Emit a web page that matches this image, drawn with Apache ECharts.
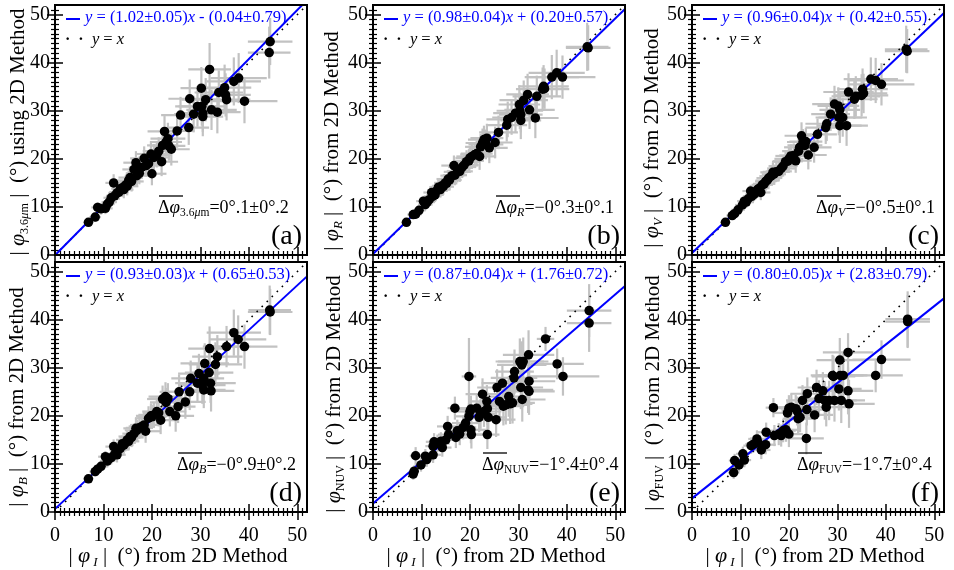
<!DOCTYPE html>
<html><head><meta charset="utf-8">
<script src="https://cdn.jsdelivr.net/npm/echarts@6/dist/echarts.min.js"></script>
<style>html,body{margin:0;padding:0;background:#fff}#c{width:954px;height:570px}</style>
</head><body><div id="c"></div>
<script>
// ---------------- DATA ----------------
// |phi_I| (x) shared by panels a, b, c and its error
const xI = [6.9,8.3,8.8,9.5,10.4,10.8,11.2,11.6,12.1,12.3,12.8,13.2,13.5,13.9,14.2,14.5,14.9,15.2,15.5,15.8,16.3,16.7,16.9,17.4,17.9,18.4,18.8,19.3,19.8,20.0,20.4,21.0,21.4,22.0,22.2,22.6,22.9,23.3,23.5,24.0,25.2,25.9,27.6,27.8,28.6,29.4,30.2,30.3,30.5,30.5,31.1,31.9,32.3,33.5,33.8,35.0,35.2,35.4,36.9,37.9,39.1,44.4,44.2];
const exI = [1.0,1.2,1.3,1.4,1.5,1.5,1.6,1.6,1.7,1.8,1.8,2.0,1.9,2.1,2.0,2.2,2.3,2.2,2.4,2.5,2.4,2.6,2.5,2.8,2.7,2.9,3.0,2.8,3.1,3.0,3.2,3.0,3.3,3.4,3.2,3.5,3.3,3.6,3.4,3.8,3.6,4.0,4.2,4.4,4.0,4.6,4.3,4.8,4.5,4.2,5.0,4.4,5.2,4.8,5.0,5.5,5.2,4.9,5.6,5.8,6.8,4.6,4.4];
// (a) 3.6um
const ya = [6.8,7.9,9.9,9.6,9.7,10.6,11.0,11.9,15.0,12.3,12.9,13.1,13.8,14.0,13.6,14.5,14.3,15.5,16.1,15.3,17.8,19.2,16.5,17.0,18.2,20.1,18.6,19.0,21.0,16.9,20.3,20.8,21.6,19.4,22.8,25.7,23.5,24.2,22.7,22.0,25.8,29.1,26.5,32.5,29.3,30.9,34.7,30.9,29.5,28.8,32.3,38.6,30.2,29.7,33.8,34.8,33.3,32.3,36.1,36.8,32.0,44.4,42.1];
const eya = [0.9,1.0,1.1,1.2,1.2,1.3,1.3,1.4,1.8,1.5,1.5,1.6,1.7,1.6,1.8,1.8,1.9,2.0,1.9,2.1,2.2,2.4,2.1,2.3,2.4,2.5,2.3,2.6,2.7,2.4,2.8,2.6,2.9,3.0,2.8,3.2,3.0,3.3,3.1,3.4,3.5,3.8,3.6,4.0,3.8,4.2,4.4,4.0,3.9,4.1,4.5,5.5,4.2,4.4,4.6,4.8,4.5,4.3,5.0,5.2,4.6,4.9,5.4];
// (b) R
const yb = [6.8,8.4,8.5,9.3,11.2,10.5,11.0,11.5,13.0,12.2,12.5,13.4,14.1,13.6,14.4,14.2,15.0,14.9,15.8,15.6,16.5,18.6,16.6,17.3,17.4,18.3,18.7,19.4,19.6,20.2,20.5,20.9,21.1,20.5,22.5,23.3,24.0,23.0,24.3,22.3,23.4,25.5,27.0,28.2,28.6,29.5,31.3,30.0,29.2,28.0,32.2,33.4,30.2,28.5,33.0,34.5,35.1,34.6,37.0,37.9,37.0,43.1,43.3];
const eyb = [0.8,0.9,1.0,1.1,1.1,1.2,1.2,1.3,1.4,1.4,1.5,1.5,1.6,1.6,1.7,1.7,1.8,1.8,1.9,2.0,2.0,2.1,2.1,2.2,2.2,2.3,2.3,2.4,2.5,2.4,2.6,2.6,2.7,2.8,2.7,3.0,2.9,3.1,3.0,3.2,3.3,3.5,3.4,3.7,3.6,3.9,4.0,3.8,3.7,3.9,4.1,4.3,4.0,4.2,4.3,4.5,4.4,4.2,4.6,4.8,4.5,4.7,5.0];
// (c) V
const yc = [6.8,8.2,8.6,9.4,10.4,11.2,11.0,11.7,13.3,12.2,12.6,13.1,13.6,13.9,13.0,14.6,14.8,15.3,15.5,16.0,16.4,17.2,16.8,17.3,17.4,18.0,18.5,19.4,19.5,20.0,20.6,20.7,19.6,21.6,22.4,24.8,23.5,22.8,23.6,20.8,22.4,25.1,26.5,27.3,29.3,31.4,31.0,28.6,26.9,30.2,28.6,26.9,33.9,32.4,33.0,33.2,34.5,33.6,36.6,36.3,35.5,42.4,42.8];
const eyc = [0.8,0.9,1.0,1.0,1.1,1.2,1.2,1.3,1.3,1.4,1.4,1.5,1.5,1.6,1.6,1.7,1.7,1.8,1.8,1.9,1.9,2.0,2.0,2.1,2.1,2.2,2.2,2.3,2.3,2.4,2.4,2.5,2.5,2.6,2.6,2.8,2.7,2.9,2.8,3.0,3.2,3.3,3.4,3.6,3.5,3.8,3.9,3.7,3.6,3.8,4.0,4.2,3.9,4.1,4.2,4.4,4.3,4.1,4.5,4.7,4.4,4.6,4.9];
// (d) B
const xd = [6.9,8.3,8.8,9.5,10.4,10.8,11.2,11.6,12.1,12.3,12.8,13.2,13.5,13.9,14.2,14.5,14.9,15.2,15.5,15.8,16.3,16.7,16.9,17.4,17.9,18.4,18.7,19.3,19.8,20.0,20.4,21.0,21.4,21.8,22.2,22.8,22.9,23.3,23.7,24.9,25.4,25.6,26.9,27.8,28.0,29.4,29.7,30.4,30.7,30.7,30.9,31.9,32.1,32.2,31.8,33.1,33.5,35.4,36.9,37.8,39.1,44.4,44.3];
const yd = [6.9,8.4,8.9,9.5,11.5,10.6,11.1,11.3,13.6,12.0,11.9,13.0,13.3,14.2,13.9,14.4,15.0,14.7,15.7,15.5,16.3,17.4,17.0,17.5,17.8,18.1,16.8,19.5,20.0,19.8,20.2,20.9,20.6,19.1,23.5,24.0,22.8,23.6,20.9,20.0,21.9,25.0,22.9,25.0,27.8,26.8,28.8,26.4,25.4,27.8,30.9,34.0,26.8,25.2,29.0,30.7,32.3,34.4,37.3,35.9,34.4,41.6,42.0];
const eyd = [0.9,1.0,1.1,1.1,1.2,1.3,1.3,1.4,1.5,1.5,1.6,1.6,1.7,1.7,1.8,1.8,1.9,1.9,2.0,2.0,2.1,2.2,2.2,2.3,2.3,2.4,2.4,2.5,2.6,2.5,2.7,2.7,2.8,2.9,2.8,3.0,3.0,3.2,3.1,3.3,3.4,3.6,3.5,3.8,3.7,4.0,4.1,3.9,3.8,4.0,4.2,4.6,4.1,4.3,4.4,4.6,4.5,4.3,4.8,5.0,4.6,4.8,5.1];
// (e) NUV
const xe = [8.3,8.5,8.8,9.9,10.8,11.1,12.4,12.4,12.6,13.3,14.0,14.3,15.0,15.4,15.6,16.9,17.1,17.4,17.9,18.6,19.1,19.8,19.8,20.0,20.2,20.2,20.3,21.4,21.9,22.2,22.6,22.9,23.5,23.6,23.6,23.8,25.4,25.6,26.1,26.7,26.9,27.4,28.0,28.3,28.8,29.1,29.2,30.3,30.5,30.7,30.8,31.0,32.1,32.2,32.0,32.2,35.6,38.0,39.2,44.6,44.6];
const ye = [7.9,8.5,11.7,9.8,11.6,10.9,11.9,13.7,14.6,14.3,14.7,13.4,15.0,17.8,16.1,21.6,15.5,16.9,16.2,17.6,18.5,28.2,19.9,20.9,21.4,17.1,16.1,21.6,19.7,20.4,24.5,20.9,23.0,21.5,16.1,19.7,19.2,25.9,23.0,26.8,22.0,22.3,24.0,22.5,22.7,27.9,29.2,31.3,25.9,30.6,23.4,31.3,32.7,27.2,25.4,25.1,36.0,30.8,28.2,41.9,39.3];
const exe = [1.0,1.0,1.2,1.3,1.4,1.4,1.6,1.6,1.7,1.8,1.9,1.9,2.1,2.2,2.2,1.5,2.4,2.5,2.6,2.7,2.8,1.5,2.9,3.0,3.0,3.1,3.1,3.3,3.4,3.4,3.5,3.6,3.7,3.8,2.5,3.8,4.0,4.1,4.2,4.3,4.3,4.4,4.5,4.6,4.6,4.8,4.0,5.0,4.6,5.1,4.8,5.2,5.3,5.4,5.2,5.3,1.8,5.5,7.5,4.6,4.6];
const eye = [1.2,1.2,1.8,1.4,1.5,1.5,1.7,1.7,1.8,1.8,1.9,1.9,2.0,2.2,2.1,2.4,2.2,2.3,2.3,2.5,2.6,8.0,2.7,2.8,2.8,2.8,2.9,3.0,3.1,3.1,3.3,3.2,3.4,3.4,3.0,3.5,3.6,3.8,3.8,4.0,4.0,4.1,4.2,4.2,4.3,4.5,4.6,4.8,4.5,4.9,4.6,5.0,5.1,5.0,4.8,4.9,2.5,3.2,4.0,5.5,6.0];
// (f) FUV
const xf = [8.6,8.8,9.7,10.5,10.8,12.2,12.7,13.4,13.6,14.3,15.2,15.3,16.8,17.0,17.9,18.4,18.8,19.4,19.7,20.0,20.0,20.5,21.4,21.7,21.9,22.3,22.8,23.6,23.8,23.7,25.3,25.7,26.2,27.0,27.4,27.7,28.3,29.0,29.2,29.4,30.3,30.5,30.6,30.8,31.2,32.2,32.2,32.4,37.9,39.1,44.5,44.5];
const yf = [8.2,10.7,9.8,12.1,10.8,13.8,14.1,15.2,14.5,12.9,14.0,16.6,21.7,15.9,16.2,15.9,16.9,17.1,20.6,21.6,16.2,21.8,21.5,21.0,19.4,19.7,23.2,15.3,24.6,21.3,20.2,25.9,23.6,25.2,23.2,21.8,23.2,28.4,28.2,23.2,25.6,31.6,28.4,23.2,28.4,33.2,25.2,22.5,28.4,31.7,39.6,40.1];
const exf = [1.2,1.2,1.3,1.4,1.4,1.6,1.7,1.8,1.8,1.9,2.1,2.1,1.6,2.4,2.5,2.6,2.6,2.7,2.8,2.9,2.9,3.0,3.1,3.2,3.2,3.3,3.4,3.6,3.5,3.5,3.8,3.9,4.0,4.1,4.2,4.2,4.3,4.5,4.5,4.6,4.7,4.8,4.8,4.9,5.0,5.2,5.2,5.3,5.6,6.0,4.6,4.6];
const eyf = [1.3,1.4,1.4,1.5,1.5,1.7,1.7,1.8,1.8,1.9,2.0,2.0,2.0,2.2,2.3,2.3,2.4,2.5,2.6,2.7,2.7,2.8,2.9,3.0,3.0,3.1,3.2,3.3,3.4,3.3,3.6,3.7,3.8,3.9,4.0,4.0,4.1,4.3,4.3,4.4,4.5,4.6,4.6,4.7,4.8,4.0,4.9,5.0,3.5,4.0,5.5,5.8];

// fit parameters and labels
const slopes = [1.02, 0.98, 0.96, 0.93, 0.87, 0.80];
const slopeErrs = ['0.05','0.04','0.04','0.03','0.04','0.05'];
const intercepts = [-0.04, 0.20, 0.42, 0.65, 1.76, 2.83];
const interErrs = ['0.79','0.57','0.55','0.53','0.72','0.79'];
const bandSubs = ['3.6μm', 'R', 'V', 'B', 'NUV', 'FUV'];
const bandItalic = [false, true, true, true, false, false];
const meanDiff = ['0°.1±0°.2', '−0°.3±0°.1', '−0°.5±0°.1', '−0°.9±0°.2', '−1°.4±0°.4', '−1°.7±0°.4'];
const panelTags = ['(a)', '(b)', '(c)', '(d)', '(e)', '(f)'];
const yVerb = ['using', 'from', 'from', 'from', 'from', 'from'];
const tickLabels = [0, 10, 20, 30, 40, 50];

// ---------------- LAYOUT ----------------
const FONT = '"Liberation Serif", "Times New Roman", Times, serif';
const G = [[55,5],[373,5],[692,5],[55,262],[373,262],[692,262]];
const W = 252, H = 250;
const AX_MIN = 0, AX_MAX = 52;
const BLUE = '#0000ff';

const panels = [
  {x: xI, y: ya, ex: exI, ey: eya},
  {x: xI, y: yb, ex: exI, ey: eyb},
  {x: xI, y: yc, ex: exI, ey: eyc},
  {x: xd, y: yd, ex: exI, ey: eyd},
  {x: xe, y: ye, ex: exe, ey: eye},
  {x: xf, y: yf, ex: exf, ey: eyf}
];

const minorVals = [];
for (let v = 1; v < AX_MAX; v++) if (v % 10) minorVals.push(v);

const grid = [], xAxis = [], yAxis = [], series = [], graphic = [];

function axisCommon(i, major, showLabel, isX) {
  return {
    gridIndex: i, type: 'value', min: AX_MIN, max: AX_MAX,
    interval: major ? 10 : 1,
    axisLine: {show: false},
    splitLine: {show: false},
    axisTick: {show: true, inside: true, length: major ? 8 : 4,
      customValues: major ? tickLabels : minorVals,
      lineStyle: {color: '#000', width: major ? 1.5 : 1.2}},
    axisLabel: {show: showLabel, customValues: tickLabels,
      formatter: v => (v % 10 === 0 && v <= 50) ? String(v) : '',
      color: '#000', fontFamily: FONT, fontSize: 20, margin: isX ? 14 : 5},
    silent: true
  };
}

const richBase = {
  t: {fontFamily: FONT, fontSize: 21, color: '#000', lineHeight: 26},
  p: {fontFamily: FONT, fontSize: 22, fontStyle: 'italic', color: '#000', lineHeight: 26},
  s: {fontFamily: FONT, fontSize: 12, color: '#000', lineHeight: 14, verticalAlign: 'bottom'},
  si: {fontFamily: FONT, fontSize: 13, fontStyle: 'italic', color: '#000', lineHeight: 14, verticalAlign: 'bottom'}
};

function subToken(i) {
  if (bandSubs[i] === '3.6μm') return '{s|3.6}{si|μ}{s|m}';
  return bandItalic[i] ? '{si|' + bandSubs[i] + '}' : '{s|' + bandSubs[i] + '}';
}

function errItem(params, api) {
  const x = api.value(0), y = api.value(1), ex = api.value(2), ey = api.value(3);
  const a = api.coord([x - ex, y]), b = api.coord([x + ex, y]);
  const c = api.coord([x, y - ey]), d = api.coord([x, y + ey]);
  const st = {stroke: '#c2c2c2', lineWidth: 2.2};
  return {type: 'group', children: [
    {type: 'line', shape: {x1: a[0], y1: a[1], x2: b[0], y2: b[1]}, style: st},
    {type: 'line', shape: {x1: c[0], y1: c[1], x2: d[0], y2: d[1]}, style: st}
  ]};
}

for (let i = 0; i < 6; i++) {
  const [L, T] = G[i];
  const bottomRow = i >= 3;
  grid.push({left: L, top: T, width: W, height: H, show: true, borderColor: '#000', borderWidth: 2, backgroundColor: 'transparent', z: 10});
  // x axes: bottom major, bottom minor, top major, top minor
  xAxis.push(Object.assign(axisCommon(i, true, bottomRow, true), {position: 'bottom'}));
  xAxis.push(Object.assign(axisCommon(i, false, false, true), {position: 'bottom'}));
  xAxis.push(Object.assign(axisCommon(i, true, false, true), {position: 'top'}));
  xAxis.push(Object.assign(axisCommon(i, false, false, true), {position: 'top'}));
  yAxis.push(Object.assign(axisCommon(i, true, true, false), {position: 'left'}));
  yAxis.push(Object.assign(axisCommon(i, false, false, false), {position: 'left'}));
  yAxis.push(Object.assign(axisCommon(i, true, false, false), {position: 'right'}));
  yAxis.push(Object.assign(axisCommon(i, false, false, false), {position: 'right'}));

  const P = panels[i];
  const pts = P.x.map((x, k) => [x, P.y[k], P.ex[k], P.ey[k]]);
  const ax = {xAxisIndex: 4 * i, yAxisIndex: 4 * i};

  series.push(Object.assign({type: 'custom', renderItem: errItem, data: pts,
    encode: {x: 0, y: 1}, clip: true, z: 1, silent: true}, ax));
  series.push(Object.assign({type: 'line', data: [[AX_MIN, AX_MIN], [AX_MAX, AX_MAX]],
    symbol: 'none', clip: true, z: 2, silent: true,
    lineStyle: {color: '#000', width: 1.6, type: [1.6, 5.5]}}, ax));
  series.push(Object.assign({type: 'line',
    data: [[AX_MIN, slopes[i] * AX_MIN + intercepts[i]], [AX_MAX, slopes[i] * AX_MAX + intercepts[i]]],
    symbol: 'none', clip: true, z: 3, silent: true,
    lineStyle: {color: BLUE, width: 2}}, ax));
  series.push(Object.assign({type: 'scatter', data: pts.map(p => [p[0], p[1]]),
    symbol: 'circle', symbolSize: 9.5, itemStyle: {color: '#000', opacity: 1}, z: 4, silent: true}, ax));

  // legend (fit line and y = x)
  const sgn = intercepts[i] < 0 ? '-' : '+';
  const fitTxt = '{it|y} = (' + slopes[i].toFixed(2) + '±' + slopeErrs[i] + '){it|x} ' + sgn +
    ' (' + Math.abs(intercepts[i]).toFixed(2) + '±' + interErrs[i] + ')';
  graphic.push({type: 'line', z: 100, silent: true,
    shape: {x1: L + 11, y1: T + 14, x2: L + 25, y2: T + 14}, style: {stroke: BLUE, lineWidth: 2}});
  graphic.push({type: 'text', x: L + 30, y: T + 13, z: 100, silent: true,
    style: {text: fitTxt, fill: BLUE, fontFamily: FONT, fontSize: 16.5, verticalAlign: 'middle', align: 'left',
      rich: {it: {fontFamily: FONT, fontSize: 16.5, fontStyle: 'italic', color: BLUE}}}});
  graphic.push({type: 'text', x: L + 10, y: T + 35, z: 100, silent: true,
    style: {text: '{d|·  ·}  {it|y} = {it|x}', fill: '#000', fontFamily: FONT, fontSize: 16.5, verticalAlign: 'middle', align: 'left',
      rich: {d: {fontFamily: FONT, fontSize: 16, fontWeight: 'bold', color: '#000'},
             it: {fontFamily: FONT, fontSize: 16.5, fontStyle: 'italic', color: '#000'}}}});

  // mean difference annotation
  const annLeft = [158, 495, 816, 177, 482, 797][i];
  const annY = T + H - 47;
  graphic.push({type: 'text', x: annLeft, y: annY, z: 100, silent: true,
    style: {text: '{t|Δ}{p|φ}' + subToken(i) + '{t|=' + meanDiff[i] + '}',
      fontFamily: FONT, fontSize: 18, verticalAlign: 'middle', align: 'left',
      rich: {
        t: {fontFamily: FONT, fontSize: 18, color: '#000', lineHeight: 22},
        p: {fontFamily: FONT, fontSize: 19, fontStyle: 'italic', color: '#000', lineHeight: 22},
        s: {fontFamily: FONT, fontSize: 11.5, color: '#000', lineHeight: 12, verticalAlign: 'bottom'},
        si: {fontFamily: FONT, fontSize: 12, fontStyle: 'italic', color: '#000', lineHeight: 12, verticalAlign: 'bottom'}
      }}});
  graphic.push({type: 'line', z: 100, silent: true,
    shape: {x1: annLeft + 1, y1: annY - 12, x2: annLeft + 25, y2: annY - 12},
    style: {stroke: '#000', lineWidth: 1.3}});

  // panel tag
  graphic.push({type: 'text', x: L + W - 5, y: T + H - 18, z: 100, silent: true,
    style: {text: panelTags[i], fill: '#000', fontFamily: FONT, fontSize: 28, align: 'right', verticalAlign: 'middle'}});

  // y axis title
  const yTitleX = [18, 332, 652, 17, 334, 653][i];
  const yTitleY = [132, 141, 138, 397, 394, 393][i];
  graphic.push({type: 'text', x: yTitleX, y: yTitleY, rotation: Math.PI / 2, z: 100, silent: true,
    style: {text: '{t|| }{p|φ}' + subToken(i) + '{t| |  (°) ' + yVerb[i] + ' 2D Method}',
      fontFamily: FONT, fontSize: 21, align: 'center', verticalAlign: 'middle', rich: richBase}});

  // x axis title (bottom row)
  if (bottomRow) {
    graphic.push({type: 'text', x: L + W / 2 - 3, y: 556, z: 100, silent: true,
      style: {text: '{t|| }{p|φ}{si| I}{t| |  (°) from 2D Method}',
        fontFamily: FONT, fontSize: 21, align: 'center', verticalAlign: 'middle', rich: richBase}});
  }
}

const chart = echarts.init(document.getElementById('c'), null, {renderer: 'canvas'});
chart.setOption({
  animation: false,
  backgroundColor: '#fff',
  grid, xAxis, yAxis, series, graphic
});
</script>
</body></html>
